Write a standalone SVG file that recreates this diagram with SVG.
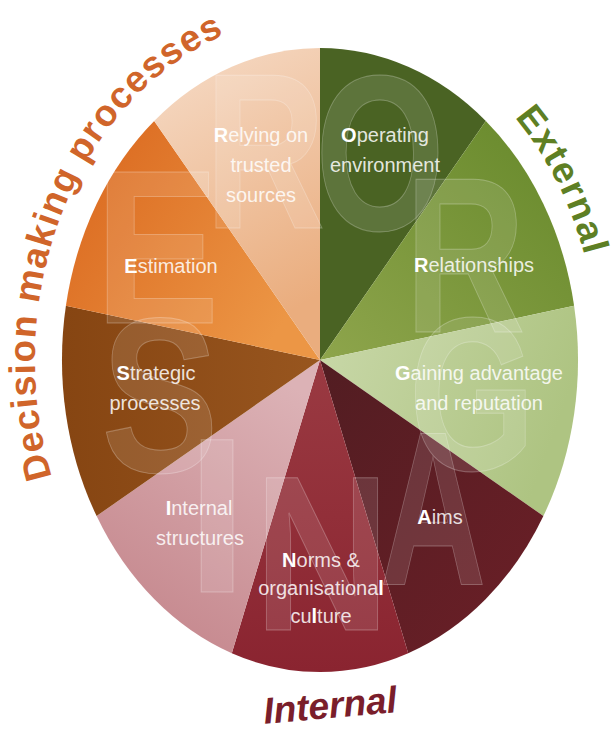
<svg xmlns="http://www.w3.org/2000/svg" width="612" height="729" viewBox="0 0 612 729">
<style>
.lbl{font-family:"Liberation Sans",Arial,sans-serif;font-size:20px;fill:#ffffff;fill-opacity:0.86;text-anchor:middle}
.lbl .b{font-weight:bold;fill-opacity:1}
.big{font-family:"Liberation Sans",Arial,sans-serif;font-weight:bold;font-size:220px;fill:#ffffff;fill-opacity:0.11;stroke:#ffffff;stroke-opacity:0.25;stroke-width:1;text-anchor:middle}
.outer{font-family:"Liberation Sans",Arial,sans-serif;font-weight:bold;font-size:37px}
</style>
<defs>
<linearGradient id="gRel" x1="0" y1="0" x2="0.3" y2="1"><stop offset="0" stop-color="#f6dcc8"/><stop offset="1" stop-color="#eaad7e"/></linearGradient>
<linearGradient id="gRsh" x1="1" y1="0" x2="0" y2="1"><stop offset="0" stop-color="#66882a"/><stop offset="1" stop-color="#8ea54c"/></linearGradient>
<linearGradient id="gGain" x1="0" y1="0" x2="1" y2="0.3"><stop offset="0" stop-color="#c9d8a9"/><stop offset="1" stop-color="#aec482"/></linearGradient>
<linearGradient id="gInt" x1="0.7" y1="0" x2="0.2" y2="1"><stop offset="0" stop-color="#dcb2b6"/><stop offset="1" stop-color="#c4858b"/></linearGradient>
<linearGradient id="gEst" x1="0" y1="0" x2="1" y2="0.6"><stop offset="0" stop-color="#d9651c"/><stop offset="1" stop-color="#ec9645"/></linearGradient>
<linearGradient id="gStr" x1="0" y1="0" x2="1" y2="0"><stop offset="0" stop-color="#864512"/><stop offset="1" stop-color="#98561f"/></linearGradient>
<linearGradient id="gNorm" x1="0" y1="0" x2="0" y2="1"><stop offset="0" stop-color="#9a3a42"/><stop offset="1" stop-color="#8a2430"/></linearGradient>
<linearGradient id="gAims" x1="0" y1="0" x2="1" y2="1"><stop offset="0" stop-color="#521d22"/><stop offset="1" stop-color="#6c1f27"/></linearGradient>
<path id="pDec" d="M86.5,557.9 A285,345 0 0 1 320,15"/>
<path id="pExt" d="M459,65.6 A278,340 0 0 1 598,360"/>
</defs>

<g id="node-operating">
<path d="M320,360 L320,48 A258,312 0 0 1 485.8,121 Z" fill="#4a6323"/>
<text class="lbl" x="385" y="142"><tspan class="b">O</tspan>perating</text>
<text class="lbl" x="385" y="172">environment</text>
</g>
<g id="node-relationships">
<path d="M320,360 L485.8,121 A258,312 0 0 1 574.1,305.8 Z" fill="url(#gRsh)"/>
<text class="lbl" x="474" y="272"><tspan class="b">R</tspan>elationships</text>
</g>
<g id="node-gaining">
<path d="M320,360 L574.1,305.8 A258,312 0 0 1 543.4,516 Z" fill="url(#gGain)"/>
<text class="lbl" x="479" y="380"><tspan class="b">G</tspan>aining advantage</text>
<text class="lbl" x="479" y="410">and reputation</text>
</g>
<g id="node-aims">
<path d="M320,360 L543.4,516 A258,312 0 0 1 408.2,653.2 Z" fill="url(#gAims)"/>
<text class="lbl" x="440" y="524"><tspan class="b">A</tspan>ims</text>
</g>
<g id="node-norms">
<path d="M320,360 L408.2,653.2 A258,312 0 0 1 231.8,653.2 Z" fill="url(#gNorm)"/>
<text class="lbl" x="321" y="567"><tspan class="b">N</tspan>orms &amp;</text>
<text class="lbl" x="321" y="595">organisationa<tspan class="b">l</tspan></text>
<text class="lbl" x="321" y="623">cu<tspan class="b">l</tspan>ture</text>
</g>
<g id="node-internal">
<path d="M320,360 L231.8,653.2 A258,312 0 0 1 96.6,516 Z" fill="url(#gInt)"/>
<text class="lbl" x="199" y="515"><tspan class="b">I</tspan>nternal</text>
<text class="lbl" x="200" y="545">structures</text>
</g>
<g id="node-strategic">
<path d="M320,360 L96.6,516 A258,312 0 0 1 65.9,305.8 Z" fill="url(#gStr)"/>
<text class="lbl" x="156" y="380"><tspan class="b">S</tspan>trategic</text>
<text class="lbl" x="155" y="410">processes</text>
</g>
<g id="node-estimation">
<path d="M320,360 L65.9,305.8 A258,312 0 0 1 154.2,121 Z" fill="url(#gEst)"/>
<text class="lbl" x="171" y="273"><tspan class="b">E</tspan>stimation</text>
</g>
<g id="node-relying">
<path d="M320,360 L154.2,121 A258,312 0 0 1 320,48 Z" fill="url(#gRel)"/>
<text class="lbl" x="261" y="142"><tspan class="b">R</tspan>elying on</text>
<text class="lbl" x="261" y="172">trusted</text>
<text class="lbl" x="261" y="202">sources</text>
</g>

<g id="acronym-letters">
<text class="big" transform="translate(265,228) scale(0.76,1)">R</text>
<text class="big" transform="translate(380,230) scale(0.76,1)">O</text>
<text class="big" transform="translate(465,332) scale(0.76,1)">R</text>
<text class="big" transform="translate(472,470) scale(0.74,1)">G</text>
<text class="big" transform="translate(433,585) scale(0.67,1)">A</text>
<text class="big" transform="translate(322,630) scale(0.86,1)">N</text>
<text class="big" transform="translate(217,592)">I</text>
<text class="big" transform="translate(160,472) scale(0.8,1)">S</text>
<text class="big" transform="translate(157,323) scale(0.85,1)">E</text>
</g>

<g id="group-labels">
<text class="outer" fill="#d0652a"><textPath href="#pDec" startOffset="88" textLength="516" lengthAdjust="spacing">Decision making processes</textPath></text>
<text class="outer" fill="#5e7f24"><textPath href="#pExt" startOffset="76" textLength="156" lengthAdjust="spacing">External</textPath></text>
<text class="outer" fill="#7a1e2b" font-style="italic" text-anchor="middle" transform="rotate(-5 330 705)" x="330" y="718" font-size="36">Internal</text>
</g>
</svg>
